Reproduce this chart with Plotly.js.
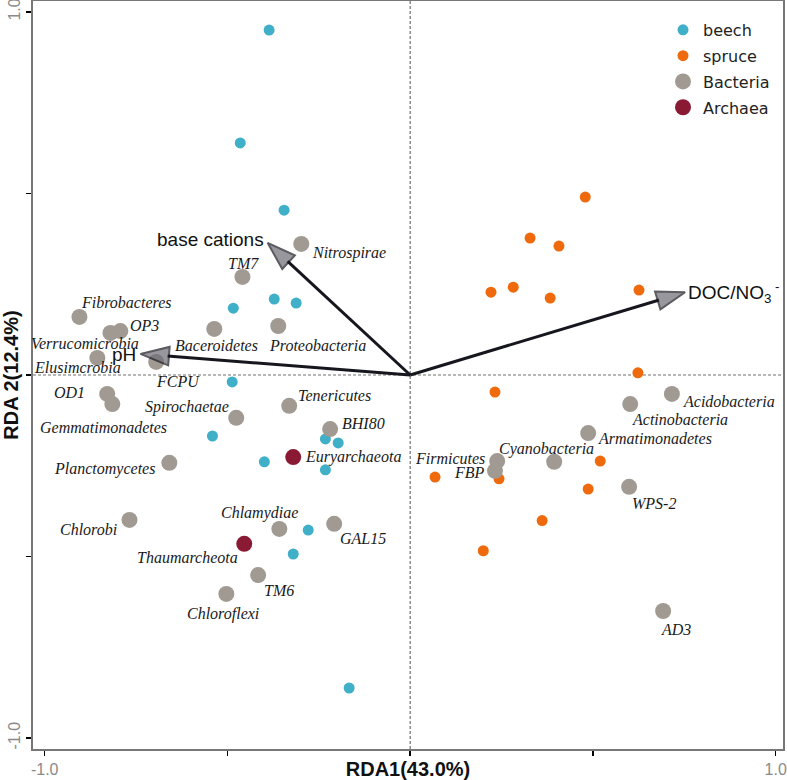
<!DOCTYPE html>
<html>
<head>
<meta charset="utf-8">
<script src="https://cdn.plot.ly/plotly-3.0.1.min.js"></script>
<style>html,body{margin:0;padding:0;background:#fff;}#chart{width:787px;height:780px;}</style>
</head>
<body>
<div id="chart"></div>
<script>
// ---- data ----
var beechX = [-0.386, -0.465, -0.345, -0.484, -0.372, -0.312, -0.487, -0.541, -0.399, -0.232, -0.197, -0.232, -0.279, -0.320, -0.167];
var beechY = [0.950, 0.639, 0.454, 0.184, 0.209, 0.198, -0.019, -0.168, -0.239, -0.176, -0.187, -0.261, -0.427, -0.493, -0.862];

var spruceX = [0.479, 0.328, 0.407, 0.221, 0.282, 0.383, 0.626, 0.623, 0.232, 0.520, 0.068, 0.243, 0.487, 0.361, 0.200];
var spruceY = [0.490, 0.377, 0.355, 0.228, 0.242, 0.212, 0.234, 0.006, -0.047, -0.237, -0.281, -0.286, -0.314, -0.401, -0.484];

var bacteriaNames = ["Nitrospirae", "TM7", "Fibrobacteres", "OP3", "Verrucomicrobia", "Elusimcrobia", "FCPU",
  "Baceroidetes", "Proteobacteria", "OD1", "Gemmatimonadetes", "Spirochaetae", "Tenericutes", "BHI80",
  "Planctomycetes", "Chlorobi", "Chlamydiae", "GAL15", "TM6", "Chloroflexi", "Acidobacteria",
  "Actinobacteria", "Armatimonadetes", "Cyanobacteria", "Firmicutes", "FBP", "WPS-2", "AD3"];
var bacteriaX = [-0.298, -0.459, -0.905, -0.793, -0.820, -0.856, -0.695, -0.536, -0.361, -0.829, -0.815, -0.476, -0.331, -0.219,
  -0.659, -0.768, -0.358, -0.208, -0.416, -0.503, 0.716, 0.602, 0.487, 0.394, 0.238, 0.232, 0.599, 0.692];
var bacteriaY = [0.361, 0.270, 0.160, 0.121, 0.116, 0.047, 0.036, 0.127, 0.135, -0.052, -0.080, -0.118, -0.085, -0.149,
  -0.242, -0.399, -0.424, -0.410, -0.551, -0.603, -0.052, -0.080, -0.160, -0.239, -0.237, -0.264, -0.308, -0.650];

var archaeaNames = ["Euryarchaeota", "Thaumarcheota"];
var archaeaX = [-0.320, -0.454];
var archaeaY = [-0.226, -0.465];

var envNames = ["base cations", "pH", "DOC/NO<sub>3</sub><sup> -</sup>"];
var envX = [-0.390, -0.738, 0.752];
var envY = [0.364, 0.058, 0.228];

var labelTickVals = [-1, 1];
var labelTickText = ["-1.0", "1.0"];
var minorTickVals = [-0.5, 0, 0.5];

// ---- label placement (anchor, px dx, px dy) ----
var bacteriaLabelPos = [
  ["left", 9, 9], ["center", 1, -13], ["left", 0, -14], ["left", 8, -6], ["center", -25, 11], ["center", -20, 10],
  ["left", -2, 20], ["center", 2, 17], ["left", -11, 20], ["right", -20, -1], ["center", -9, 23], ["right", -5, -11],
  ["left", 7, -10], ["left", 10, -6], ["right", -12, 6], ["right", -10, 10], ["center", -20, -16], ["left", 4, 15],
  ["left", 4, 15], ["center", -3, 20], ["left", 9, 8], ["left", 0, 15], ["left", 8, 5], ["center", -8, -13],
  ["right", -10, -3], ["right", -8, 2], ["left", 1, 17], ["left", -4, 18]
];
var archaeaLabelPos = [["left", 10, 0], ["right", -4, 14]];
var envLabelPos = [["right", -2, -3], ["right", -2, 1], ["left", 1, 0]];

var cBeech = "#40AFC8", cSpruce = "#EE6A0C", cBact = "#A09A93", cArch = "#8A1A33";

var traces = [
  {type: "scatter", mode: "markers", name: "beech", x: beechX, y: beechY, legendgroup: "a",
   marker: {color: cBeech, size: 11}, hoverinfo: "x+y"},
  {type: "scatter", mode: "markers", name: "spruce", x: spruceX, y: spruceY, legendgroup: "b",
   marker: {color: cSpruce, size: 11}, hoverinfo: "x+y"},
  {type: "scatter", mode: "markers", name: "Bacteria", x: bacteriaX, y: bacteriaY, text: bacteriaNames, legendgroup: "c",
   marker: {color: cBact, size: 16}, hoverinfo: "text"},
  {type: "scatter", mode: "markers", name: "Archaea", x: archaeaX, y: archaeaY, text: archaeaNames, legendgroup: "d",
   marker: {color: cArch, size: 16}, hoverinfo: "text"}
];
for (var i = 0; i < envNames.length; i++) {
  traces.push({
    type: "scatter", mode: "lines+markers", showlegend: false, hoverinfo: "skip",
    x: [0, envX[i]], y: [0, envY[i]],
    line: {color: "#16161e", width: 3},
    marker: {symbol: "arrow", angleref: "previous", size: [0, 30], color: "#6c6c74",
             line: {color: "#16161e", width: 2}}
  });
}

var annotations = [];
function addLabels(names, xs, ys, pos, font) {
  for (var i = 0; i < names.length; i++) {
    annotations.push({
      x: xs[i], y: ys[i], xref: "x", yref: "y", text: names[i], showarrow: false,
      xanchor: pos[i][0], yanchor: "middle", xshift: pos[i][1], yshift: -pos[i][2], font: font
    });
  }
}
var italicFont = {family: "Liberation Serif, Times New Roman, serif", size: 16, color: "#1a1a1a", style: "italic"};
addLabels(bacteriaNames, bacteriaX, bacteriaY, bacteriaLabelPos, italicFont);
addLabels(archaeaNames, archaeaX, archaeaY, archaeaLabelPos, italicFont);
addLabels(envNames, envX, envY, envLabelPos, {family: "Liberation Sans, Arial, sans-serif", size: 19, color: "#111"});

function axisCommon() {
  return {
    tickmode: "array", tickvals: labelTickVals, ticktext: labelTickText, ticks: "outside", ticklen: 5,
    tickcolor: "#000", tickwidth: 1.5, showgrid: false, zeroline: false,
    minor: {tickmode: "array", tickvals: minorTickVals, ticks: "outside", ticklen: 5, tickcolor: "#000", tickwidth: 1.5, showgrid: false},
    showline: true, mirror: true, linecolor: "#777", linewidth: 2,
    ticklabeloverflow: "allow",
    tickfont: {size: 16, color: "#8a8a8a"}
  };
}
var xaxis = axisCommon();
xaxis.range = [-1.032, 1.02];
xaxis.title = {text: "<b>RDA1(43.0%)</b>", font: {size: 20, color: "#111"}, standoff: 2};
var yaxis = axisCommon();
yaxis.range = [-1.03, 1.03];
yaxis.tickangle = -90;
yaxis.title = {text: "<b>RDA 2(12.4%)</b>", font: {size: 20, color: "#111"}, standoff: 2};

var layout = {
  width: 787, height: 780,
  margin: {l: 33, r: 4, t: 1, b: 31, pad: 0},
  paper_bgcolor: "#fff", plot_bgcolor: "#fff",
  font: {family: "Liberation Sans, Arial, sans-serif"},
  showlegend: true,
  legend: {x: 0.84, y: 0.984, xanchor: "left", yanchor: "top", bgcolor: "rgba(0,0,0,0)",
           font: {family: "DejaVu Sans, Verdana, sans-serif", size: 16, color: "#222"},
           tracegroupgap: 2, itemsizing: "trace"},
  xaxis: xaxis,
  yaxis: yaxis,
  shapes: [
    {type: "line", xref: "x", yref: "paper", x0: 0, x1: 0, y0: 0, y1: 1, layer: "below",
     line: {color: "#707070", width: 1.2, dash: "3px,2px"}},
    {type: "line", xref: "paper", yref: "y", x0: 0, x1: 1, y0: 0, y1: 0, layer: "below",
     line: {color: "#707070", width: 1.2, dash: "3px,2px"}}
  ],
  annotations: annotations
};

Plotly.newPlot("chart", traces, layout, {displayModeBar: false, staticPlot: true});
</script>
</body>
</html>
